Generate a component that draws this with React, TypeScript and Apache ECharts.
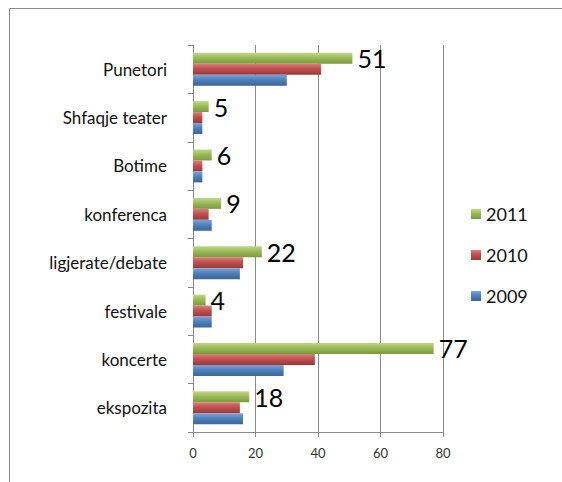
import React, { useEffect, useRef } from "react";
import * as echarts from "echarts";

const categories = ["ekspozita", "koncerte", "festivale", "ligjerate/debate", "konferenca", "Botime", "Shfaqje teater", "Punetori"];
const values2009 = [16, 29, 6, 15, 6, 3, 3, 30];
const values2010 = [15, 39, 6, 16, 5, 3, 3, 41];
const values2011 = [18, 77, 4, 22, 9, 6, 5, 51];
const xTicks = { min: 0, max: 80, interval: 20 };

const grad = (top: string, mid: string, bot: string) =>
  new echarts.graphic.LinearGradient(0, 0, 0, 1, [
    { offset: 0, color: top },
    { offset: 0.45, color: mid },
    { offset: 1, color: bot },
  ]);

export default function App() {
  const ref = useRef<HTMLDivElement>(null);
  useEffect(() => {
    const chart = echarts.init(ref.current!, null, { renderer: "svg" });
    const font = "Lato, 'Open Sans', sans-serif";
    chart.setOption({
      animation: false,
      backgroundColor: "#ffffff",
      textStyle: { fontFamily: font },
      graphic: [
        {
          type: "rect",
          shape: { x: 9.5, y: 8.5, width: 560, height: 480 },
          style: { fill: "none", stroke: "#8a8a8a", lineWidth: 1 },
          silent: true,
        },
      ],
      legend: {
        orient: "vertical",
        left: 466,
        top: 200,
        data: ["2011", "2010", "2009"],
        itemWidth: 10,
        itemHeight: 10,
        itemGap: 23,
        icon: "rect",
        textStyle: { fontSize: 18, color: "#111", fontFamily: font },
      },
      grid: { left: 193, top: 45, width: 250, bottom: 50 },
      xAxis: {
        type: "value",
        min: xTicks.min,
        max: xTicks.max,
        interval: xTicks.interval,
        axisLine: { show: true, lineStyle: { color: "#8a8a8a" } },
        axisTick: { show: true, length: 5, lineStyle: { color: "#8a8a8a" } },
        axisLabel: { fontSize: 13, color: "#333", margin: 14, fontFamily: font },
        splitLine: { show: true, lineStyle: { color: "#8a8a8a", width: 1 } },
      },
      yAxis: {
        type: "category",
        data: categories,
        axisLine: { show: true, lineStyle: { color: "#8a8a8a" } },
        axisTick: { show: true, length: 5, lineStyle: { color: "#8a8a8a" } },
        axisLabel: { fontSize: 17, color: "#111", margin: 26, fontFamily: font },
      },
      series: [
        {
          name: "2011",
          type: "bar",
          data: values2011,
          barGap: "0%",
          barCategoryGap: "32%",
          itemStyle: { color: grad("#bfd88a", "#9bbb59", "#7b9a3b") },
          label: {
            show: true,
            position: "right",
            distance: 5,
            fontSize: 25,
            color: "#000",
            fontFamily: font,
          },
        },
        {
          name: "2010",
          type: "bar",
          data: values2010,
          barGap: "0%",
          barCategoryGap: "32%",
          itemStyle: { color: grad("#d9807d", "#c0504d", "#9a3a37") },
        },
        {
          name: "2009",
          type: "bar",
          data: values2009,
          barGap: "0%",
          barCategoryGap: "32%",
          itemStyle: { color: grad("#7ea4d6", "#4f81bd", "#3a6699") },
        },
      ],
    });
    return () => chart.dispose();
  }, []);
  return (
    <div
      ref={ref}
      style={{ position: "fixed", left: 0, top: 0, width: 562, height: 482 }}
    />
  );
}
